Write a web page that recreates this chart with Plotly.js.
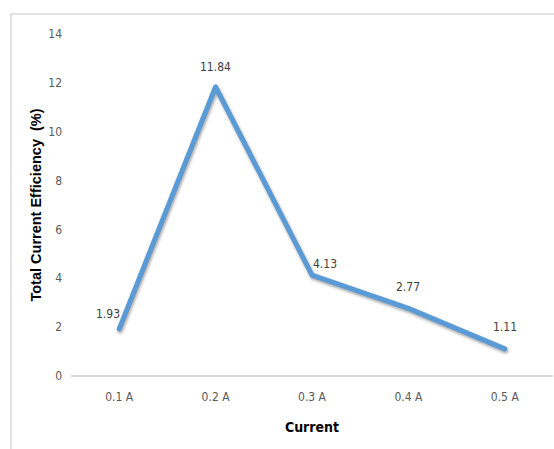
<!DOCTYPE html>
<html>
<head>
<meta charset="utf-8">
<script src="https://cdn.plot.ly/plotly-3.0.1.min.js"></script>
<style>
  html, body { margin: 0; padding: 0; background: #ffffff; }
  #chart { width: 554px; height: 449px; }
</style>
</head>
<body>
<div id="chart"></div>
<script>
// Total current efficiency per applied current
const currents = ["0.1 A", "0.2 A", "0.3 A", "0.4 A", "0.5 A"];
const efficiency = [1.93, 11.84, 4.13, 2.77, 1.11];
const yTicks = [0, 2, 4, 6, 8, 10, 12, 14];

// label nudges (pixels, screen up = positive) so each value sits clear of the line
const labelShiftX = [-11, 0, 13, 0, 0];
const labelShiftY = [15, 20, 11, 21, 22];

const narrow = "Liberation Sans Narrow, DejaVu Sans Condensed, Arial Narrow, sans-serif";

const trace = {
  x: currents,
  y: efficiency,
  type: "scatter",
  mode: "lines",
  line: { color: "#5B9BD5", width: 5 },
  hoverinfo: "x+y",
  showlegend: false
};

const annotations = currents.map((c, i) => ({
  x: c,
  y: efficiency[i],
  xref: "x",
  yref: "y",
  text: efficiency[i].toFixed(2),
  showarrow: false,
  xshift: labelShiftX[i],
  yshift: labelShiftY[i],
  font: { family: narrow, size: 12, color: "#404040" }
}));

// light frame around the chart area
const L = 71, R = 1, T = 34, B = 73, W = 554, H = 449;
const pw = W - L - R, ph = H - T - B;
const px = v => (v - L) / pw;
const py = v => (H - B - v) / ph;

const layout = {
  width: W,
  height: H,
  margin: { l: L, r: R, t: T, b: B },
  paper_bgcolor: "#ffffff",
  plot_bgcolor: "#ffffff",
  xaxis: {
    type: "category",
    range: [-0.5, currents.length - 0.5],
    showgrid: false,
    zeroline: false,
    showline: false,
    ticks: "",
    ticklabelstandoff: 12,
    tickfont: { family: narrow, size: 12, color: "#595959" },
    title: {
      text: "<b>Current</b>",
      font: { family: narrow, size: 14, color: "#000000" },
      standoff: 19
    }
  },
  yaxis: {
    range: [0, 14],
    tickvals: yTicks,
    ticktext: yTicks.map(String),
    showgrid: false,
    zeroline: true,
    zerolinecolor: "#D9D9D9",
    zerolinewidth: 2,
    showline: false,
    ticks: "",
    ticklabelstandoff: 8,
    tickfont: { family: narrow, size: 12, color: "#595959" },
    title: {
      text: "<b>Total Current Efficiency  (%)</b>",
      font: { family: "Liberation Sans, Arial, sans-serif", size: 14.5, color: "#000000" },
      standoff: 3
    }
  },
  annotations: annotations,
  shapes: [
    {
      type: "path",
      xref: "paper",
      yref: "paper",
      path: "M " + px(11) + "," + py(460) + " L " + px(11) + "," + py(14) + " L " + px(560) + "," + py(14),
      line: { color: "#D9D9D9", width: 1.5 },
      layer: "below"
    }
  ]
};

Plotly.newPlot("chart", [trace], layout, { displayModeBar: false, staticPlot: true }).then(gd => {
  gd.querySelectorAll(".scatterlayer .trace path.js-line").forEach(p => {
    p.style.filter = "drop-shadow(1px 2px 1.5px rgba(0,0,0,0.35))";
    p.style.strokeLinejoin = "round";
    p.style.strokeLinecap = "round";
  });
});
</script>
</body>
</html>
